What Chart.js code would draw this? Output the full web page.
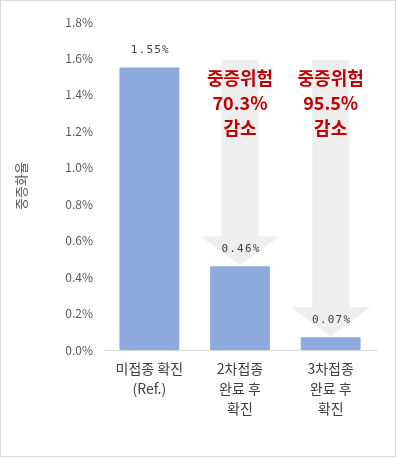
<!DOCTYPE html>
<html>
<head>
<meta charset="utf-8">
<script src="https://cdn.jsdelivr.net/npm/chart.js@4.4.0/dist/chart.umd.min.js"></script>
<style>
    body { margin: 0; background: #fff; }
    #wrap { width: 394px; height: 455px; border: 1px solid #d9d9d9; background: #fff; }
</style>
</head>
<body>
<div id="wrap"><canvas id="chart" width="394" height="455"></canvas></div>
<script>
// chart data
const categories = [
    ['미접종 확진', '(Ref.)'],
    ['2차접종', '완료 후', '확진'],
    ['3차접종', '완료 후', '확진']
];
const severeRate = [1.55, 0.46, 0.07];
const reductions = [null, '70.3%', '95.5%'];
const yTicks = [0, 0.2, 0.4, 0.6, 0.8, 1.0, 1.2, 1.4, 1.6, 1.8];
const yTitle = '중증화율';

// gray down arrows behind bars 2 and 3
const arrowPlugin = {
    id: 'arrows',
    beforeDatasetsDraw(chart) {
        const ctx = chart.ctx;
        const meta = chart.getDatasetMeta(0);
        const top = chart.chartArea.top + 38;
        ctx.save();
        ctx.fillStyle = '#eeeeee';
        reductions.forEach((r, i) => {
            if (!r) return;
            const bar = meta.data[i];
            const cx = bar.x;
            const tip = bar.y - 1;
            const headTop = tip - 29;
            ctx.beginPath();
            ctx.moveTo(cx - 18.5, top);
            ctx.lineTo(cx + 18.5, top);
            ctx.lineTo(cx + 18.5, headTop);
            ctx.lineTo(cx + 39.5, headTop);
            ctx.lineTo(cx, tip);
            ctx.lineTo(cx - 39.5, headTop);
            ctx.lineTo(cx - 18.5, headTop);
            ctx.closePath();
            ctx.fill();
        });
        ctx.restore();
    },
    afterDatasetsDraw(chart) {
        const ctx = chart.ctx;
        const meta = chart.getDatasetMeta(0);
        ctx.save();
        // value labels
        ctx.font = '11px "DejaVu Sans Mono"';
        ctx.letterSpacing = '1.2px';
        ctx.fillStyle = '#404040';
        ctx.textAlign = 'center';
        ctx.textBaseline = 'middle';
        severeRate.forEach((v, i) => {
            const bar = meta.data[i];
            ctx.fillText(v.toFixed(2) + '%', bar.x + 1, bar.y - 17);
        });
        // red annotations
        ctx.letterSpacing = '0px';
        ctx.font = 'bold 18px "Noto Sans CJK KR"';
        ctx.fillStyle = '#c00000';
        const top = chart.chartArea.top;
        reductions.forEach((r, i) => {
            if (!r) return;
            const cx = meta.data[i].x;
            ['중증위험', r, '감소'].forEach((line, k) => {
                ctx.fillText(line, cx, top + 56 + k * 25);
            });
        });
        ctx.restore();
    }
};

new Chart(document.getElementById('chart'), {
    type: 'bar',
    data: {
        labels: categories,
        datasets: [{
            data: severeRate,
            backgroundColor: '#8faadc',
            categoryPercentage: 1,
            barPercentage: 0.66
        }]
    },
    options: {
        responsive: false,
        animation: false,
        events: [],
        layout: { padding: { top: 21, right: 19, left: 0, bottom: 0 } },
        plugins: {
            legend: { display: false },
            tooltip: { enabled: false }
        },
        scales: {
            x: {
                grid: { display: false, drawTicks: false },
                border: { display: true, color: '#d9d9d9' },
                ticks: {
                    color: '#404040',
                    padding: 9,
                    maxRotation: 0,
                    autoSkip: false,
                    font: { family: '"Noto Sans CJK KR"', size: 14, lineHeight: 1.43 }
                },
                afterFit(scale) { scale.height = 106; }
            },
            y: {
                min: 0,
                max: 1.8,
                afterBuildTicks(scale) { scale.ticks = yTicks.map(v => ({ value: v })); },
                grid: { display: false, drawTicks: false },
                border: { display: false },
                ticks: {
                    color: '#595959',
                    padding: 11,
                    font: { family: '"Noto Sans CJK KR"', size: 12 },
                    callback: v => v.toFixed(1) + '%'
                },
                title: {
                    display: true,
                    text: yTitle,
                    color: '#595959',
                    padding: { top: 12, bottom: 0 },
                    font: { family: '"Noto Sans CJK KR"', size: 13 }
                },
                afterFit(scale) { scale.width = 103; }
            }
        }
    },
    plugins: [arrowPlugin]
});
</script>
</body>
</html>
